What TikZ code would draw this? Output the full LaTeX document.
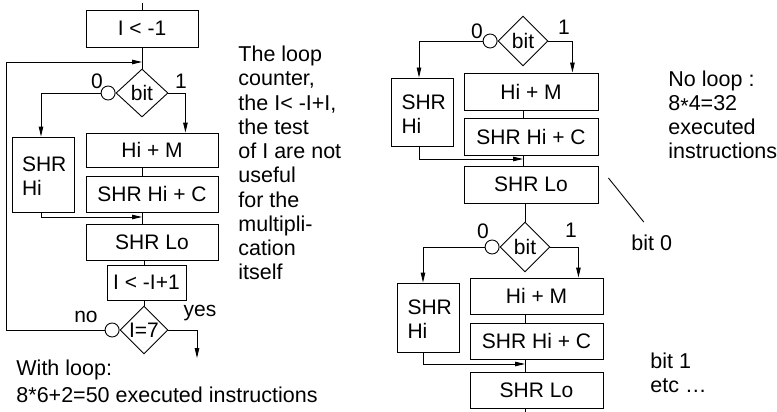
\documentclass[tikz,border=0pt]{standalone}
\usepackage{fontspec}
\setmainfont{Liberation Sans}
\usetikzlibrary{arrows.meta, shapes.geometric, positioning, calc}

\begin{document}
\begin{tikzpicture}[x=1pt, y=-1pt, line width=0.9pt, >={Triangle[length=10pt,width=4.5pt]},
    box/.style={draw, inner sep=0pt, font=\fontsize{21}{24}\selectfont},
    sidebox/.style={draw, inner xsep=10pt, inner ysep=8pt, text width=42pt, align=left, text depth=20pt, font=\fontsize{21}{24}\selectfont},
    test/.style={draw, diamond, inner sep=0pt, minimum width=50pt, minimum height=50pt, font=\fontsize{21}{24}\selectfont},
    ring/.style={draw, circle, inner sep=0pt, minimum size=14pt},
    tag/.style={inner sep=0pt, font=\fontsize{21}{24}\selectfont},
    note/.style={align=left, inner sep=0pt, font=\fontsize{21.5}{24.25}\selectfont}]
    \useasboundingbox (0,0) rectangle (777,412);

    % Loop version (left)
    \coordinate (top) at (142,3);
    \node[box, minimum width=112, minimum height=37] (init) at (142,28.5) {I < -1};
    \coordinate (loopin) at (142,62);
    \node[test, minimum width=52, minimum height=48] (bitL) at (142,93) {bit};
    \node[ring, left=0pt of bitL] (ringL) {};
    \node[box, minimum width=132, minimum height=34] (addL) at (152,150) {Hi + M};
    \node[box, minimum width=132, minimum height=36] (shcL) at (152,194) {SHR Hi + C};
    \node[sidebox, minimum height=75] (shiL) at (43,174.5) {SHR\\Hi};
    \coordinate (joinL) at (142,217);
    \node[box, minimum width=132, minimum height=36] (sloL) at (152,242) {SHR Lo};
    \node[box, minimum width=79, minimum height=35] (incL) at (146.5,282.5) {I < -I+1};
    \node[test, minimum width=48, minimum height=48] (endL) at (144,330) {I=7};
    \node[ring, left=0pt of endL] (ringE) {};
    \coordinate (exitL) at (197,358);

    \draw (top) -- (init);
    \draw (init) -- (bitL);
    \draw[->] (bitL.east) -| ([xshift=-33pt]addL.north east);
    \draw[->] (ringL.west) -| ([xshift=-2pt]shiL.north);
    \draw (addL.south -| bitL) -- (shcL.north -| bitL);
    \draw (shcL.south -| bitL) -- (sloL.north -| bitL);
    \draw[->] ([xshift=-2pt]shiL.south) |- (joinL);
    \draw (sloL.south -| endL) -- (incL.north -| endL);
    \draw (incL.south -| endL) -- (endL.north);
    \draw[->] (endL.east) -| (exitL);
    \draw[->] (ringE.west) -- ++(-98,0) |- (loopin);

    \node[tag] (zeroL) at (97,81) {0};
    \node[tag] (oneL) at (181,81) {1};
    \node[tag] (noL) at (86,317) {no};
    \node[tag] (yesL) at (200,313) {yes};

    % Comments
    \node[note, anchor=north west] (loopnote) at (238,45.5) {The loop\\counter,\\the I< -I+I,\\the test\\of I are not\\useful\\for the\\multipli-\\cation\\itself};
    \node[note, anchor=north west] (withnote) at (16,359.5) {With loop:\\[3pt]8*6+2=50 executed instructions};

    % Unrolled version (right), bit 0
    \node[test] (bitA) at (523,41) {bit};
    \node[ring, left=0pt of bitA] (ringA) {};
    \node[box, minimum width=134, minimum height=37] (addA) at (531,91.5) {Hi + M};
    \node[box, minimum width=134, minimum height=37] (shcA) at (531,136.5) {SHR Hi + C};
    \node[sidebox, minimum height=68] (shiA) at (422.5,112) {SHR\\Hi};
    \coordinate (joinA) at (523,159);
    \node[box, minimum width=134, minimum height=37] (sloA) at (531,184.5) {SHR Lo};

    \draw[->] (bitA.east) -| ([xshift=-26pt]addA.north east);
    \draw[->] (ringA.west) -| ([xshift=-3.5pt]shiA.north);
    \draw (addA.south -| bitA) -- (shcA.north -| bitA);
    \draw (shcA.south -| bitA) -- (sloA.north -| bitA);
    \draw[->] ([xshift=-3.5pt]shiA.south) |- (joinA);

    \node[tag] (zeroA) at (477,31) {0};
    \node[tag] (oneA) at (564,27) {1};

    % bit 1
    \node[test] (bitB) at (525,247) {bit};
    \node[ring, left=0pt of bitB] (ringB) {};
    \node[box, minimum width=133, minimum height=36] (addB) at (536.5,296) {Hi + M};
    \node[box, minimum width=133, minimum height=36] (shcB) at (536.5,341) {SHR Hi + C};
    \node[sidebox, minimum height=69] (shiB) at (428.5,317.5) {SHR\\Hi};
    \coordinate (joinB) at (525,364);
    \node[box, minimum width=133, minimum height=36] (sloB) at (536.5,390) {SHR Lo};
    \coordinate (tail) at (525,413);

    \draw (sloA.south -| bitB) -- (bitB.north);
    \draw[->] (bitB.east) -| ([xshift=-25pt]addB.north east);
    \draw[->] (ringB.west) -| ([xshift=-5.5pt]shiB.north);
    \draw (addB.south -| bitB) -- (shcB.north -| bitB);
    \draw (shcB.south -| bitB) -- (sloB.north -| bitB);
    \draw[->] ([xshift=-5.5pt]shiB.south) |- (joinB);
    \draw (sloB.south -| bitB) -- (tail);

    \node[tag] (zeroB) at (483,231) {0};
    \node[tag] (oneB) at (571,230) {1};

    % Notes right
    \node[note, anchor=north west] (nonote) at (668,70) {No loop :\\8\raisebox{-0.3ex}{*}4=32\\executed\\instructions};
    \node[note, anchor=north west] (bitzero) at (631,234.5) {bit 0};
    \draw ($(sloA.east)+(10,-6.5)$) -- ($(bitzero.north)+(-8,-12.5)$);
    \node[note, anchor=north west] (bitone) at (650,352.5) {bit 1\\etc \ldots};

  \end{tikzpicture}
\end{document}
